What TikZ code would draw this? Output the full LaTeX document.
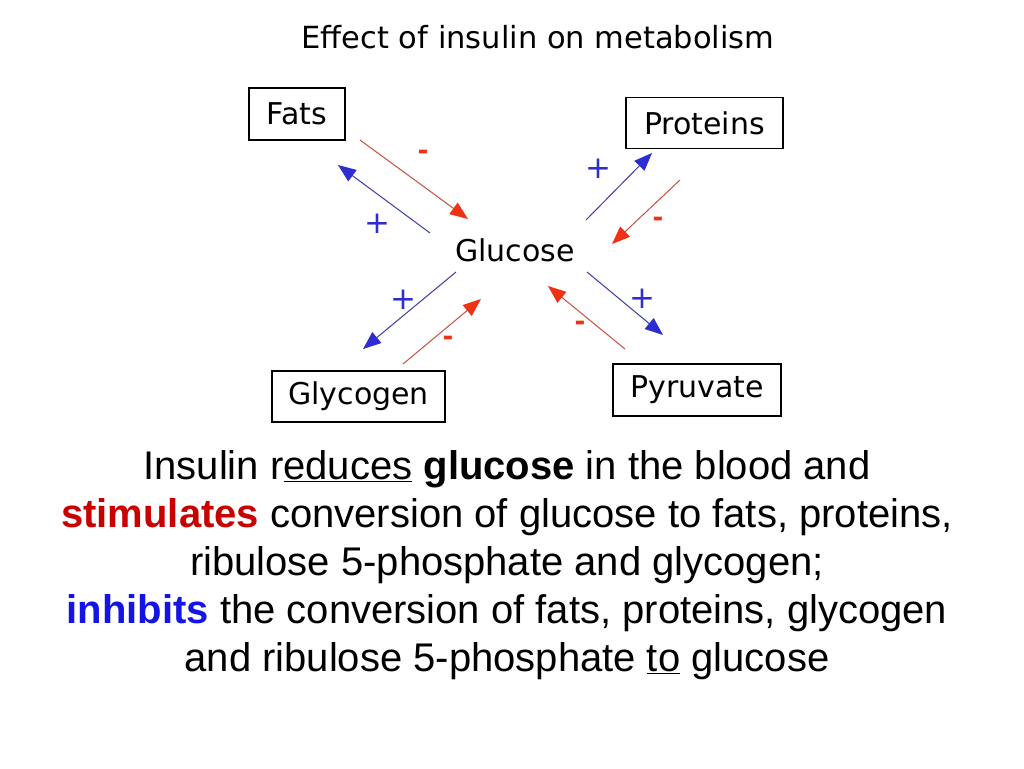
\documentclass[tikz,border=0pt]{standalone}
\usepackage{fontspec}
\setmainfont{Liberation Sans}
\newfontfamily\verdanalike{DejaVu Sans}
\usetikzlibrary{arrows.meta}
\definecolor{linered}{RGB}{200,80,60}
\definecolor{tipred}{RGB}{240,50,20}
\definecolor{lineblue}{RGB}{60,60,170}
\definecolor{tipblue}{RGB}{45,45,210}
\definecolor{stimred}{RGB}{200,0,0}
\definecolor{inhblue}{RGB}{20,20,230}
\tikzset{
  metabox/.style={draw,line width=1.6pt,inner sep=0pt,font=\verdanalike\fontsize{30}{30}\selectfont},
  minusarrow/.style={draw=linered,line width=1pt,-{Triangle[length=18pt,width=14pt,color=tipred]}},
  plusarrow/.style={draw=lineblue,line width=1pt,-{Triangle[length=18pt,width=14pt,color=tipblue]}},
  plussign/.style={text=tipblue,font=\verdanalike\fontsize{31}{31}\selectfont},
  minussign/.style={text=tipred,font=\verdanalike\bfseries\fontsize{26}{26}\selectfont}
}

\begin{document}
\begin{tikzpicture}[x=1pt,y=-1pt]
  \useasboundingbox[fill=white] (0,0) rectangle (1024,768);
  \node[font=\verdanalike\fontsize{30.5}{30.5}\selectfont] (title) at (538,37) {Effect of insulin on metabolism};
  % boxes round glucose
  \node[metabox,minimum width=96pt,minimum height=52pt] (fats) at (297,114) {Fats};
  \node[metabox,minimum width=157pt,minimum height=51pt] (proteins) at (704.5,123) {Proteins};
  \node[metabox,minimum width=173pt,minimum height=51pt] (glycogen) at (358.5,396.5) {Glycogen};
  \node[metabox,minimum width=168pt,minimum height=52pt] (pyruvate) at (697,390) {Pyruvate};
  \node[font=\verdanalike\fontsize{30}{30}\selectfont] (glucose) at (515,250) {Glucose};
  % arrow ends
  \coordinate (fatsOut) at (360,140);  \coordinate (fatsIn) at (468,219);
  \coordinate (fatsFrom) at (430,233); \coordinate (fatsTo) at (338,165);
  \coordinate (protFrom) at (586,220); \coordinate (protTo) at (652,153);
  \coordinate (protOut) at (680,180);  \coordinate (protIn) at (612,244);
  \coordinate (glyFrom) at (456,272);  \coordinate (glyTo) at (363,349);
  \coordinate (glyOut) at (403,364);   \coordinate (glyIn) at (481,299);
  \coordinate (pyrFrom) at (587,272);  \coordinate (pyrTo) at (663,335);
  \coordinate (pyrOut) at (625,349);   \coordinate (pyrIn) at (548,286);
  \draw[minusarrow] (fatsOut) -- (fatsIn);
  \draw[plusarrow] (fatsFrom) -- (fatsTo);
  \draw[plusarrow] (protFrom) -- (protTo);
  \draw[minusarrow] (protOut) -- (protIn);
  \draw[plusarrow] (glyFrom) -- (glyTo);
  \draw[minusarrow] (glyOut) -- (glyIn);
  \draw[plusarrow] (pyrFrom) -- (pyrTo);
  \draw[minusarrow] (pyrOut) -- (pyrIn);
  \node[minussign] (mFats) at (423,155) {-};
  \node[plussign] (pFats) at (377,224) {+};
  \node[plussign] (pProt) at (598,169) {+};
  \node[minussign] (mProt) at (658,222) {-};
  \node[plussign] (pGly) at (403,300) {+};
  \node[minussign] (mGly) at (448,341) {-};
  \node[plussign] (pPyr) at (642,299) {+};
  \node[minussign] (mPyr) at (580,326) {-};
  % caption
  \node[align=center,font=\fontsize{40}{48}\selectfont] (caption) at (507,565) {%
    Insulin r\underline{educes} \textbf{glucose} in the blood and\\
    \textcolor{stimred}{\textbf{stimulates}} conversion of glucose to fats, proteins,\\
    ribulose 5-phosphate and glycogen;\\
    \textcolor{inhblue}{\textbf{inhibits}} the conversion of fats, proteins, glycogen\\
    and ribulose 5-phosphate \underline{to} glucose};
\end{tikzpicture}
\end{document}
